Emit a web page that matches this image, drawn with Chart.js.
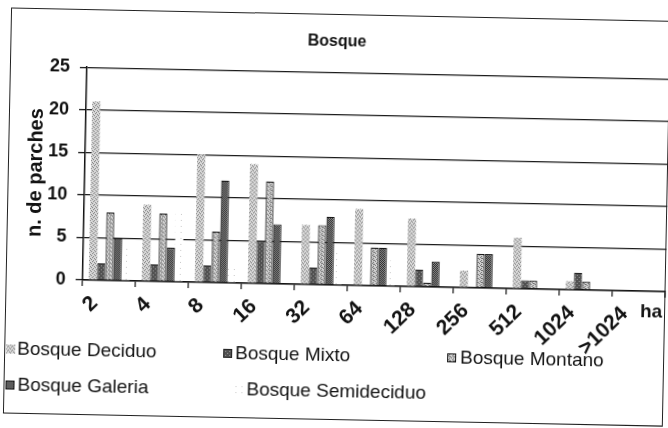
<!DOCTYPE html>
<html><head><meta charset="utf-8">
<script src="https://cdn.jsdelivr.net/npm/chart.js@4/dist/chart.umd.min.js"></script>
<style>
html,body{margin:0;padding:0;background:#fff;}
#wrap{position:relative;width:668px;height:428px;overflow:hidden;transform:rotate(1.15deg);transform-origin:334px 214px;font-family:"Liberation Sans",Arial,sans-serif;background:#fff;}
#frame{position:absolute;left:7px;top:14px;width:660px;height:406px;border:1px solid #222;box-sizing:border-box;}
#c{position:absolute;left:0;top:0;}
.lg{position:absolute;font-size:19px;color:#111;line-height:22px;white-space:nowrap;}
.sw{position:absolute;width:9px;height:9px;}
</style></head>
<body>
<div id="wrap">
<div id="frame"></div>
<canvas id="c" width="668" height="428"></canvas>
<div id="legend"></div>
</div>
<script>
// ---- data ----
const categories = ['2','4','8','16','32','64','128','256','512','1024','>1024'];
const seriesNames = ['Bosque Deciduo','Bosque Mixto','Bosque Montano','Bosque Galeria','Bosque Semideciduo'];
const deciduo     = [21, 9, 15, 14, 7, 9, 8, 2, 6, 1, 0];
const mixto       = [2, 2, 2, 5, 2, 0, 2, 0, 1, 2, 0];
const montano     = [8, 8, 6, 12, 7, 4.5, 0.5, 4, 1, 1, 0];
const galeria     = [5, 4, 12, 7, 8, 4.5, 3, 4, 0, 0, 0];
const semideciduo = [4, 8, 2, 0, 4, 3, 0, 0, 0, 0, 0];
const yTicks = [0, 5, 10, 15, 20, 25];
const chartTitle = 'Bosque';
const yTitle = 'n. de parches';
const xUnit = 'ha';

// ---- styles ----
const FONT = '"Liberation Sans", Arial, sans-serif';
const canvas = document.getElementById('c');
const ctx = canvas.getContext('2d');
function makeTile(bg, fg, cells, size){
  const t = document.createElement('canvas'); t.width = size; t.height = size;
  const x = t.getContext('2d'); x.fillStyle = bg; x.fillRect(0,0,size,size);
  x.fillStyle = fg; cells.forEach(c => x.fillRect(c[0], c[1], 1, 1));
  return t;
}
const tiles = [
  makeTile('#dadada', '#7a7a7a', [[0,0],[2,1],[1,2],[3,3]], 4),
  makeTile('#505050', '#9c9c9c', [[0,0],[2,2]], 4),
  makeTile('#d2d2d2', '#6e6e6e', [[0,0],[2,1],[1,2],[3,3],[2,3]], 4),
  makeTile('#8a8a8a', '#2e2e2e', [[0,0],[1,1],[2,0],[3,1],[0,2],[1,3],[2,2],[3,3]], 4),
  makeTile('#ffffff', '#c8c8c8', [[1,1]], 6)
];
const fills = tiles.map(t => ctx.createPattern(t, 'repeat'));
const borders = ['#9a9a9a', '#222222', '#151515', '#151515', '#ffffff'];
const borderWidths = [0, 1, 1.2, 1.2, 0];
const seriesData = [deciduo, mixto, montano, galeria, semideciduo];

const datasets = seriesData.map((d, i) => ({
  label: seriesNames[i], data: d,
  backgroundColor: fills[i], borderColor: borders[i], borderWidth: borderWidths[i],
  categoryPercentage: 0.77, barPercentage: 1.0
}));

const unitPlugin = {
  id: 'unitLabel',
  afterDraw(chart){
    const c = chart.ctx; c.save();
    c.font = 'bold 19px ' + FONT; c.fillStyle = '#111';
    c.textAlign = 'center'; c.textBaseline = 'middle';
    c.fillText(xUnit, 653, 306);
    c.restore();
  }
};

new Chart(canvas, {
  type: 'bar',
  data: { labels: categories, datasets },
  plugins: [unitPlugin],
  options: {
    responsive: false, animation: false,
    layout: { padding: { left: 0, right: 1, top: 0, bottom: 0 } },
    plugins: {
      legend: { display: false },
      tooltip: { enabled: false },
      title: { display: true, text: chartTitle, color: '#111',
        font: { family: FONT, size: 16, weight: 'bold' }, padding: { top: 32, bottom: 21 } }
    },
    scales: {
      x: {
        grid: { display: true, drawOnChartArea: false, drawTicks: true, tickLength: 6, color: '#111', lineWidth: 1.2, offset: true },
        border: { display: true, color: '#111', width: 1.5 },
        ticks: { color: '#111', font: { family: FONT, size: 21, weight: 'bold' }, minRotation: 45, maxRotation: 45, padding: 5, labelOffset: -14, autoSkip: false },
        afterFit(s){ s.height = 143; }
      },
      y: {
        min: 0, max: 25,
        afterBuildTicks(s){ s.ticks = yTicks.map(v => ({ value: v })); },
        ticks: { color: '#111', font: { family: FONT, size: 18, weight: 'bold' }, padding: 10 },
        grid: { color: '#1a1a1a', lineWidth: 1.3, tickLength: 7, drawTicks: true },
        border: { color: '#111', width: 1.5 },
        title: { display: true, text: yTitle, color: '#111', font: { family: FONT, size: 20, weight: 'bold' }, padding: { top: 23, bottom: 0 } },
        afterFit(s){ s.width = 84; }
      }
    }
  }
});

// ---- HTML legend (built from series names / fills) ----
const legendPos = [
  { sx: 9,   tx: 20,  y: 344 },
  { sx: 226, tx: 238, y: 344 },
  { sx: 450, tx: 463, y: 344 },
  { sx: 9,   tx: 21,  y: 380 },
  { sx: 238, tx: 250, y: 380 }
];
const lg = document.getElementById('legend');
seriesNames.forEach((name, i) => {
  const p = legendPos[i];
  const sw = document.createElement('canvas');
  sw.width = 9; sw.height = 9; sw.className = 'sw';
  sw.style.left = p.sx + 'px'; sw.style.top = (p.y + 7) + 'px';
  const sc = sw.getContext('2d');
  sc.fillStyle = sc.createPattern(tiles[i], 'repeat'); sc.fillRect(0,0,9,9);
  if (borderWidths[i] > 0) { sc.strokeStyle = borders[i]; sc.lineWidth = 1; sc.strokeRect(0.5,0.5,8,8); }
  lg.appendChild(sw);
  const t = document.createElement('div');
  t.className = 'lg'; t.textContent = name;
  t.style.left = p.tx + 'px'; t.style.top = p.y + 'px';
  lg.appendChild(t);
});
</script>
</body></html>
